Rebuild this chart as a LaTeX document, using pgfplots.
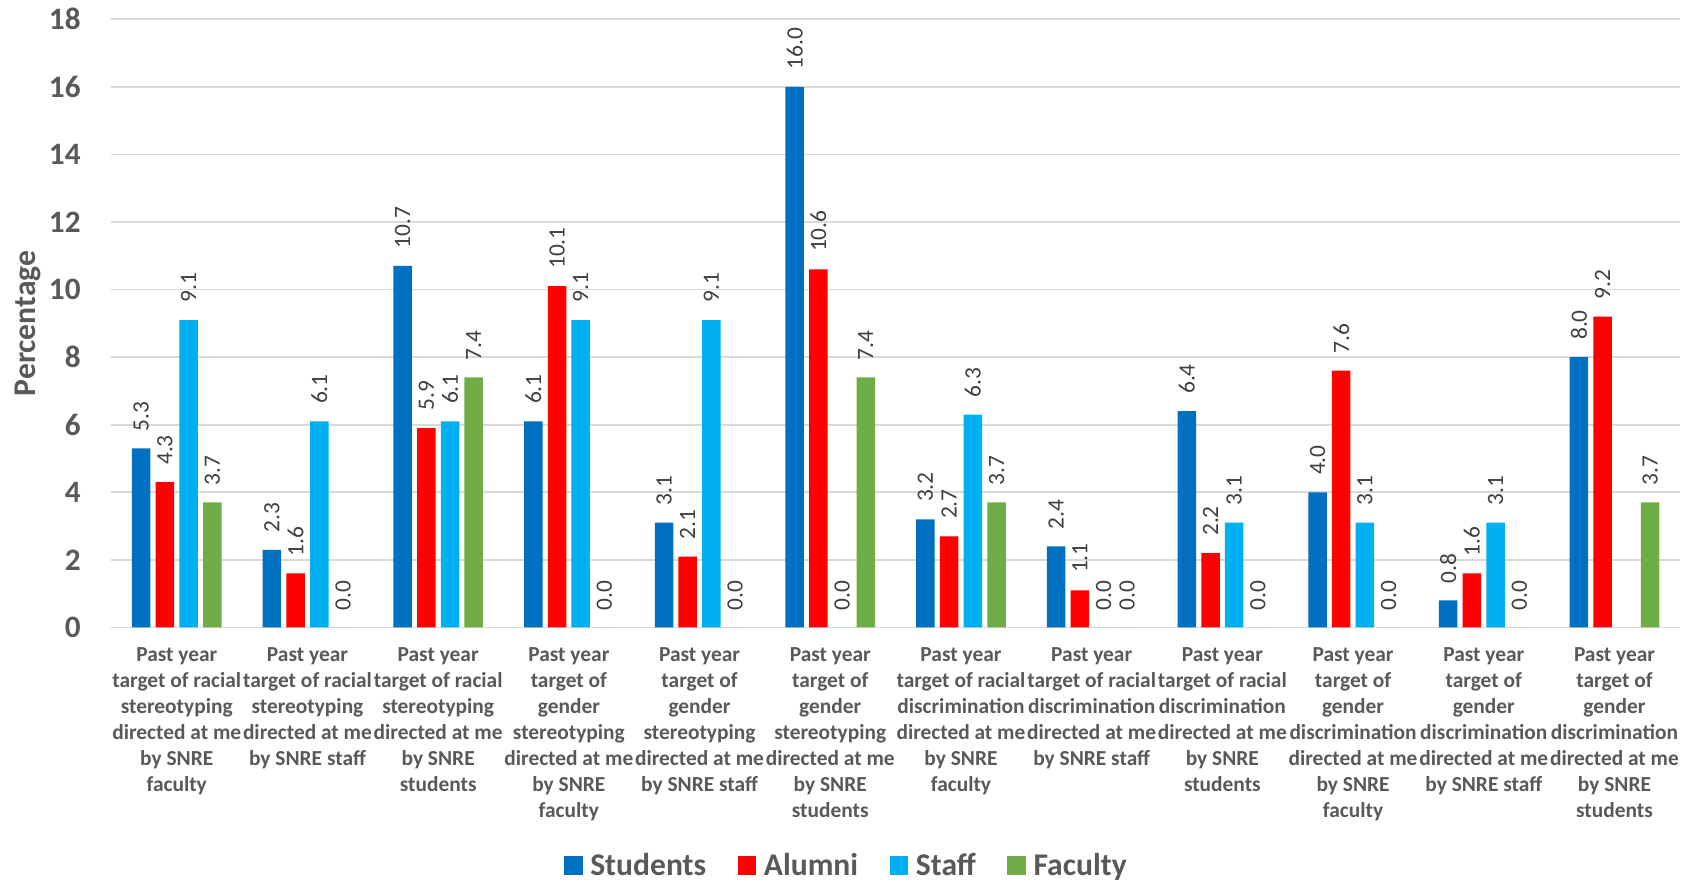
\documentclass[border=0pt]{standalone}
\usepackage{fontspec}
\setmainfont{Carlito}
\usepackage{pgfplots}
\usepackage{pgfplotstable}
\pgfplotsset{compat=1.18}

\definecolor{cStu}{HTML}{0070C0}
\definecolor{cAlu}{HTML}{FF0000}
\definecolor{cSta}{HTML}{00B0F0}
\definecolor{cFac}{HTML}{70AD47}
\definecolor{txtgray}{HTML}{595959}
\definecolor{labgray}{HTML}{404040}
\definecolor{gridgray}{HTML}{D9D9D9}

% Percentage of respondents in each group, one row per item
\pgfplotstableread{
x  stu   alu   sta   fac
0  5.3   4.3   9.1   3.7
1  2.3   1.6   6.1   0.0
2  10.7  5.9   6.1   7.4
3  6.1   10.1  9.1   0.0
4  3.1   2.1   9.1   0.0
5  16.0  10.6  0.0   7.4
6  3.2   2.7   6.3   3.7
7  2.4   1.1   0.0   0.0
8  6.4   2.2   3.1   0.0
9  4.0   7.6   3.1   0.0
10 0.8   1.6   3.1   0.0
11 8.0   9.2   nan   3.7
}\survey

\pgfplotsset{
  sqleg/.style={legend image code/.code={\fill[##1] (0pt,-4.6pt) rectangle (9.2pt,4.6pt);}},
}

\begin{document}
\begin{tikzpicture}
\useasboundingbox (0,0) rectangle (845pt,441pt);
\begin{axis}[
  at={(55.7pt,127.25pt)}, anchor=south west,
  scale only axis, width=784.2pt, height=304.1pt,
  ybar=2.6pt, bar width=9.25pt,
  xmin=-0.5, xmax=11.5, ymin=0, ymax=18,
  enlargelimits=false, clip=false,
  axis line style={draw=none},
  major tick length=0pt,
  ytick={0,2,...,18},
  ymajorgrids, grid style={gridgray, line width=0.85pt},
  /pgf/number format/assume math mode=true,
  yticklabel style={font=\bfseries\fontsize{15.6}{18}\selectfont, text=txtgray, inner sep=0pt, xshift=-15.2pt},
  xtick={0,...,11},
  xticklabels={
    {Past year\\target of racial\\stereotyping\\directed at me\\by SNRE\\faculty},
    {Past year\\target of racial\\stereotyping\\directed at me\\by SNRE staff},
    {Past year\\target of racial\\stereotyping\\directed at me\\by SNRE\\students},
    {Past year\\target of\\gender\\stereotyping\\directed at me\\by SNRE\\faculty},
    {Past year\\target of\\gender\\stereotyping\\directed at me\\by SNRE staff},
    {Past year\\target of\\gender\\stereotyping\\directed at me\\by SNRE\\students},
    {Past year\\target of racial\\discrimination\\directed at me\\by SNRE\\faculty},
    {Past year\\target of racial\\discrimination\\directed at me\\by SNRE staff},
    {Past year\\target of racial\\discrimination\\directed at me\\by SNRE\\students},
    {Past year\\target of\\gender\\discrimination\\directed at me\\by SNRE\\faculty},
    {Past year\\target of\\gender\\discrimination\\directed at me\\by SNRE staff},
    {Past year\\target of\\gender\\discrimination\\directed at me\\by SNRE\\students}},
  xticklabel style={font=\bfseries\fontsize{10.7}{12.95}\selectfont, text=txtgray, align=center, anchor=north, inner sep=0pt, yshift=-10pt},
  ylabel={Percentage},
  ylabel style={at={(axis description cs:-0.0529,0.5)}, anchor=center, font=\bfseries\fontsize{15.8}{18}\selectfont, text=txtgray},
  nodes near coords={\pgfmathprintnumber[fixed,fixed zerofill,precision=1,assume math mode=true]{\pgfplotspointmeta}},
  nodes near coords style={rotate=90, anchor=west, inner xsep=8.5pt, inner ysep=0pt, font=\fontsize{11.7}{14}\selectfont, text=labgray},
  legend columns=-1,
  legend style={at={(axis description cs:0.468,-0.3913)}, anchor=center, draw=none, fill=none,
    font=\bfseries\fontsize{15.8}{18}\selectfont, text=txtgray,
    nodes={inner sep=0pt},
    /tikz/every odd column/.append style={column sep=3.85pt},
    /tikz/every even column/.append style={column sep=15.8pt}},
]
\addplot[sqleg, fill=cStu, draw=none] table[x=x, y=stu] {\survey};
\addplot[sqleg, fill=cAlu, draw=none] table[x=x, y=alu] {\survey};
\addplot[sqleg, fill=cSta, draw=none] table[x=x, y=sta] {\survey};
\addplot[sqleg, fill=cFac, draw=none] table[x=x, y=fac] {\survey};
\legend{Students, Alumni, Staff, Faculty}
\end{axis}
\end{tikzpicture}
\end{document}
